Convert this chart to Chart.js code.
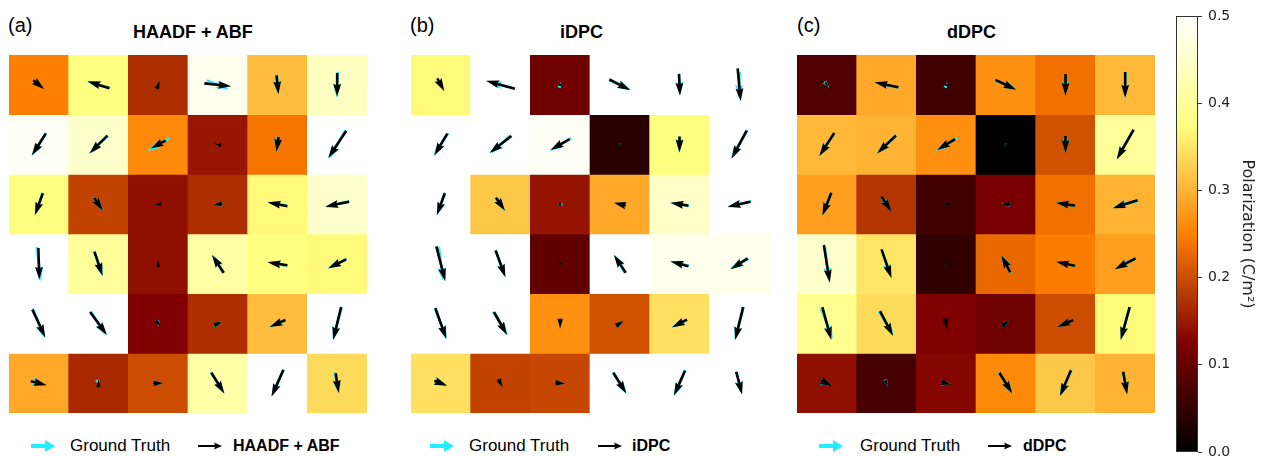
<!DOCTYPE html>
<html><head><meta charset="utf-8">
<script src="https://cdn.jsdelivr.net/npm/chart.js@4.4.1/dist/chart.umd.min.js"></script>
<style>
html,body{margin:0;padding:0;background:#fff;}
body{width:1266px;height:456px;overflow:hidden;position:relative;font-family:"Liberation Sans",Arial,sans-serif;color:#000;}
.abs{position:absolute;white-space:nowrap;}
.tag{font-size:20px;line-height:24px;top:13px;}
.ttl{font-size:18px;font-weight:bold;line-height:22px;top:21px;}
.lg{font-size:17px;line-height:20px;top:436px;}
.lgb{font-weight:bold;font-size:16px;}
canvas{position:absolute;}
svg{position:absolute;}
</style></head><body>

<div class="abs tag" style="left:8px">(a)</div>
<div class="abs ttl" style="left:133px">HAADF + ABF</div>
<div class="abs tag" style="left:410px">(b)</div>
<div class="abs ttl" style="left:560px">iDPC</div>
<div class="abs tag" style="left:797px">(c)</div>
<div class="abs ttl" style="left:947px">dDPC</div>

<canvas id="pa" width="358" height="358" style="left:9px;top:55px"></canvas>
<canvas id="pb" width="358" height="358" style="left:411px;top:55px"></canvas>
<canvas id="pc" width="358" height="358" style="left:797px;top:55px"></canvas>
<canvas id="cb" width="96" height="470" style="left:1170px;top:0px"></canvas>

<!-- legends -->
<svg style="left:31px;top:438px" width="26" height="16"><polygon points="0,6 14,6 14,2 24,8 14,14 14,10 0,10" fill="#22eeff"/></svg>
<div class="abs lg" style="left:70px">Ground Truth</div>
<svg style="left:198px;top:438px" width="26" height="16"><polygon points="0,7 17,7 16,4.5 24,8 16,11.5 17,9 0,9" fill="#000"/></svg>
<div class="abs lg lgb" style="left:233px">HAADF + ABF</div>

<svg style="left:430px;top:438px" width="26" height="16"><polygon points="0,6 14,6 14,2 24,8 14,14 14,10 0,10" fill="#22eeff"/></svg>
<div class="abs lg" style="left:469px">Ground Truth</div>
<svg style="left:598px;top:438px" width="26" height="16"><polygon points="0,7 17,7 16,4.5 24,8 16,11.5 17,9 0,9" fill="#000"/></svg>
<div class="abs lg lgb" style="left:632px">iDPC</div>

<svg style="left:819px;top:438px" width="26" height="16"><polygon points="0,6 14,6 14,2 24,8 14,14 14,10 0,10" fill="#22eeff"/></svg>
<div class="abs lg" style="left:860px">Ground Truth</div>
<svg style="left:988px;top:438px" width="26" height="16"><polygon points="0,7 17,7 16,4.5 24,8 16,11.5 17,9 0,9" fill="#000"/></svg>
<div class="abs lg lgb" style="left:1023px">dDPC</div>

<script>
// ---------------- data ----------------
const columns = ['1','2','3','4','5','6'];
const ROWS = 6;

// polarization magnitude per cell (C/m^2), row 0 = top
const polHaadfAbf = [
  [0.25,0.375,0.17,0.485,0.31,0.44],
  [0.49,0.45,0.26,0.147,0.24,0.5],
  [0.375,0.19,0.14,0.17,0.37,0.45],
  [0.5,0.40,0.14,0.41,0.375,0.37],
  [0.5,0.5,0.125,0.17,0.31,0.5],
  [0.29,0.165,0.2,0.415,0.5,0.34]
];
const polIdpc = [
  [0.37,0.5,0.11,0.5,0.5,0.5],
  [0.5,0.5,0.49,0.04,0.375,0.5],
  [0.5,0.32,0.145,0.29,0.445,0.5],
  [0.5,0.5,0.094,0.5,0.48,0.48],
  [0.5,0.5,0.266,0.204,0.345,0.5],
  [0.345,0.19,0.195,0.5,0.5,0.5]
];
const polDdpc = [
  [0.078,0.29,0.063,0.266,0.235,0.305],
  [0.305,0.30,0.265,0.0,0.204,0.40],
  [0.28,0.176,0.063,0.118,0.235,0.30],
  [0.45,0.35,0.047,0.228,0.247,0.28],
  [0.39,0.34,0.125,0.11,0.2,0.37],
  [0.14,0.07,0.13,0.26,0.32,0.30]
];

// arrow components (x right, y up), 60 units = one cell
const gtU = [
  [5,-23,2,22,1,-1],
  [-15,-19,-22,0,-1,-17],
  [-8,10,-5,-9,-19,-24],
  [4,9,0,-10,-19,-19],
  [12,15,2,8,-16,-9],
  [12,3,10,14,-12,5]];
const gtV = [
  [-6,6,6,-9,-20,-26],
  [-23,-18,-13,0,-16,-29],
  [-23,-14,0,1,3,-6],
  [-34,-26,3,18,4,-10],
  [-30,-24,-7,5,-7,-33],
  [-4,-7,-1,-22,-27,-22]];

const haadfU = [
  [11,-22,3,27,2,0],
  [-14,-18,-15,-7,-2,-18],
  [-8,9,-7,-9,-20,-24],
  [1,8,0,-12,-20,-18],
  [13,17,4,8,-16,-8],
  [16,0,10,13,-12,3]];
const haadfV = [
  [-9,7,8,-3,-19,-24],
  [-22,-18,-8,2,-15,-27],
  [-22,-13,0,0,4,-5],
  [-32,-24,7,18,3,-9],
  [-28,-23,-6,4,-7,-33],
  [-4,8,0,-21,-27,-20]];

const idpcU = [
  [7,-29,1,21,1,3],
  [-13,-22,-19,0,0,-15],
  [-8,9,1,-12,-18,-23],
  [9,10,0,-12,-18,-17],
  [11,13,0,8,-15,-8],
  [13,4,10,13,-11,6]];
const idpcV = [
  [-13,8,-1,-11,-22,-33],
  [-22,-17,-11,0,-16,-28],
  [-22,-13,0,3,3,-5],
  [-35,-27,0,18,5,-11],
  [-31,-23,-10,5,-8,-33],
  [-5,-8,-1,-21,-25,-23]];

const ddpcU = [
  [3,-24,0,21,0,0],
  [-15,-19,-18,0,0,-17],
  [-9,10,-6,-9,-19,-25],
  [6,10,0,-9,-19,-21],
  [9,13,2,8,-16,-9],
  [12,3,10,13,-11,4]];
const ddpcV = [
  [-5,5,0,-10,-22,-26],
  [-23,-18,-11,0,-17,-30],
  [-23,-15,0,0,3,-8],
  [-38,-29,0,17,4,-11],
  [-33,-25,-11,5,-7,-33],
  [-5,-6,-2,-21,-26,-23]];

// colorbar
const cbRange = [0, 0.5];
const cbTicks = [0, 0.1, 0.2, 0.3, 0.4, 0.5];
const cbLabel = 'Polarization (C/m²)';

// ---------------- styles / helpers ----------------
const UNITS_PER_CELL = 60;
const SHAFT_W = 2.6;
const GT_COLOR = '#22eeff';
const PRED_COLOR = '#000000';

function clamp01(t){ return Math.max(0, Math.min(1, t)); }
function afmhot(v){
  const x = clamp01((v - cbRange[0]) / (cbRange[1] - cbRange[0]));
  const r = Math.round(255*clamp01(2*x)), g = Math.round(255*clamp01(2*x-0.5)), b = Math.round(255*clamp01(2*x-1));
  return `rgb(${r},${g},${b})`;
}

function drawQuiverArrow(ctx, cx, cy, dx, dy, w){
  const L = Math.hypot(dx, dy);
  if (L < w){
    ctx.beginPath(); ctx.arc(cx, cy, w*0.5, 0, Math.PI*2); ctx.fill(); return;
  }
  const HL = 5*w, HAL = 4.5*w, HW = 3*w, minsh = 5*w;
  const len = Math.max(L, minsh);
  const s = L < minsh ? L/minsh : 1;
  const pts = [[0,w/2],[len-HAL,w/2],[len-HL,HW/2],[len,0],[len-HL,-HW/2],[len-HAL,-w/2],[0,-w/2]]
    .map(([x,y]) => [x*s, y*s]);
  const tip = pts[3][0];
  ctx.save();
  ctx.translate(cx, cy);
  ctx.rotate(Math.atan2(dy, dx));
  ctx.translate(-tip/2, 0);
  ctx.beginPath();
  pts.forEach(([x,y],i) => i ? ctx.lineTo(x,y) : ctx.moveTo(x,y));
  ctx.closePath();
  ctx.fill();
  ctx.restore();
}

const quiverPlugin = {
  id: 'quiver',
  afterDatasetsDraw(chart, args, opts){
    const xs = chart.scales.x, ys = chart.scales.y, ctx = chart.ctx;
    const layers = [[opts.gtU, opts.gtV, GT_COLOR], [opts.u, opts.v, PRED_COLOR]];
    layers.forEach(([U, V, color]) => {
      ctx.save();
      ctx.fillStyle = color;
      for (let r = 0; r < ROWS; r++){
        for (let c = 0; c < columns.length; c++){
          const yc = ROWS - 0.5 - r;
          const px = xs.getPixelForValue(c), py = ys.getPixelForValue(yc);
          const dx = xs.getPixelForValue(c + U[r][c]/UNITS_PER_CELL) - px;
          const dy = ys.getPixelForValue(yc + V[r][c]/UNITS_PER_CELL) - py;
          drawQuiverArrow(ctx, px, py, dx, dy, SHAFT_W);
        }
      }
      ctx.restore();
    });
  }
};

function makePanel(id, pol, u, v){
  const datasets = pol.map((rowVals, r) => ({
    data: columns.map(() => [ROWS-1-r, ROWS-r]),
    backgroundColor: rowVals.map(afmhot),
    borderWidth: 0,
    grouped: false,
    barPercentage: 1,
    categoryPercentage: 1
  }));
  new Chart(document.getElementById(id), {
    type: 'bar',
    data: { labels: columns, datasets },
    options: {
      responsive: false, animation: false, devicePixelRatio: 1,
      layout: { padding: 0 },
      plugins: { legend: {display:false}, tooltip: {enabled:false},
        quiver: { gtU, gtV, u, v } },
      scales: {
        x: { display: false, offset: true },
        y: { display: false, min: 0, max: ROWS }
      }
    },
    plugins: [quiverPlugin]
  });
}

makePanel('pa', polHaadfAbf, haadfU, haadfV);
makePanel('pb', polIdpc, idpcU, idpcV);
makePanel('pc', polDdpc, ddpcU, ddpcV);

// colorbar
const framePlugin = {
  id: 'frame',
  afterDatasetsDraw(chart){
    const a = chart.chartArea, ctx = chart.ctx;
    ctx.save(); ctx.strokeStyle = '#333'; ctx.lineWidth = 1;
    ctx.strokeRect(Math.round(a.left)+0.5, Math.round(a.top)+0.5, Math.round(a.width)-1, Math.round(a.height)-1);
    ctx.restore();
  }
};
new Chart(document.getElementById('cb'), {
  type: 'bar',
  data: { labels: ['cb'], datasets: [{
    data: [cbRange],
    borderWidth: 0, barPercentage: 1, categoryPercentage: 1,
    backgroundColor: (c) => {
      const chart = c.chart, ys = chart.scales.y;
      if (!chart.chartArea || !ys) return '#000';
      const g = chart.ctx.createLinearGradient(0, ys.getPixelForValue(cbRange[0]), 0, ys.getPixelForValue(cbRange[1]));
      [0, 0.25, 0.5, 0.75, 1].forEach(t => g.addColorStop(t, afmhot(cbRange[0] + t*(cbRange[1]-cbRange[0]))));
      return g;
    }
  }]},
  options: {
    responsive: false, animation: false, devicePixelRatio: 1,
    layout: { padding: { left: 6, top: 16, right: 0, bottom: 18 } },
    plugins: { legend: {display:false}, tooltip: {enabled:false} },
    scales: {
      x: { display: false, offset: true },
      y: {
        position: 'right', min: cbRange[0], max: cbRange[1],
        afterFit: (s) => { s.width = 68; },
        afterBuildTicks: (s) => { s.ticks = cbTicks.map(v => ({ value: v })); },
        border: { display: false },
        grid: { drawOnChartArea: false, drawTicks: true, tickLength: 4, color: '#333', lineWidth: 1 },
        ticks: { padding: 6, color: '#222', font: { family: 'DejaVu Sans', size: 14 },
          callback: (v) => Number(v).toFixed(1) },
        title: { display: true, text: cbLabel, color: '#222',
          font: { family: 'DejaVu Sans', size: 16 }, padding: { top: 9, bottom: 0 } }
      }
    }
  },
  plugins: [framePlugin]
});
</script>
</body></html>
